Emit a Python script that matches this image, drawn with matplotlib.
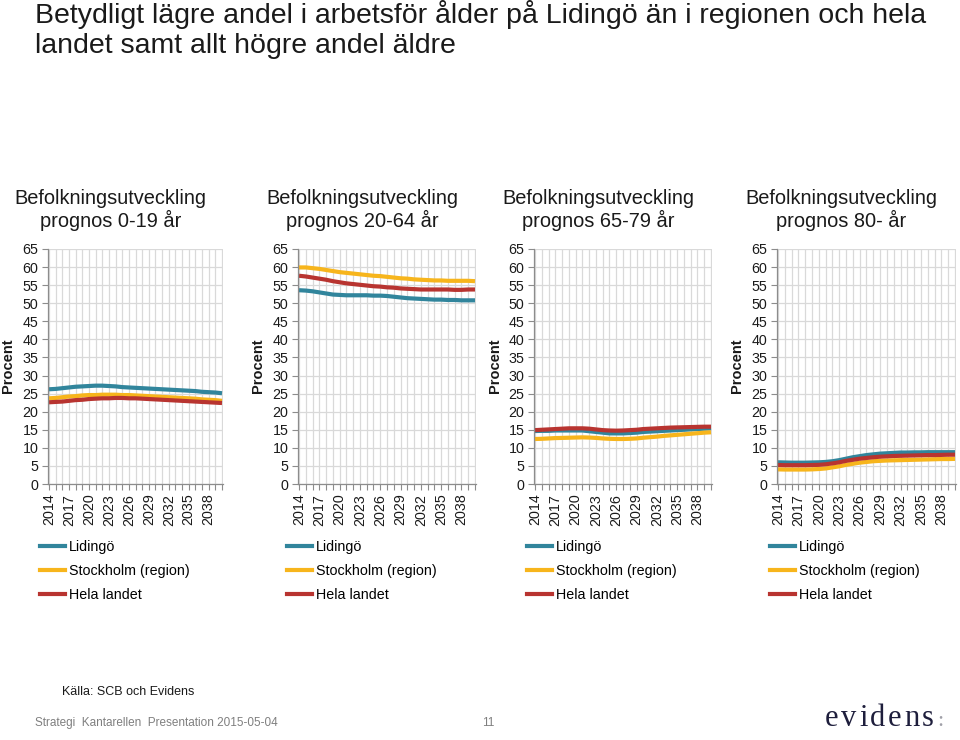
import matplotlib
matplotlib.use("Agg")
import matplotlib.pyplot as plt
from matplotlib.lines import Line2D
import numpy as np

plt.rcParams['font.family'] = ['Liberation Sans', 'DejaVu Sans']

years = list(range(2014, 2041))
tick_years = list(range(2014, 2039, 3))
series_names = ["Lidingö", "Stockholm (region)", "Hela landet"]
colors = ["#31859C", "#F7B51C", "#B83430"]

panel_titles = [
    "Befolkningsutveckling\nprognos 0-19 år",
    "Befolkningsutveckling\nprognos 20-64 år",
    "Befolkningsutveckling\nprognos 65-79 år",
    "Befolkningsutveckling\nprognos 80- år",
]

# 0-19 år
lid_0_19 = [26.2, 26.3, 26.5, 26.7, 26.9, 27.0, 27.1, 27.2, 27.2, 27.1, 27.0, 26.8, 26.7, 26.6,
            26.5, 26.4, 26.3, 26.2, 26.1, 26.0, 25.9, 25.8, 25.7, 25.5, 25.4, 25.3, 25.1]
sth_0_19 = [23.7, 23.8, 24.0, 24.2, 24.3, 24.5, 24.6, 24.6, 24.7, 24.7, 24.7, 24.6, 24.6, 24.5,
            24.4, 24.3, 24.2, 24.1, 24.0, 23.9, 23.8, 23.7, 23.6, 23.4, 23.3, 23.2, 23.0]
hel_0_19 = [22.6, 22.7, 22.8, 23.0, 23.2, 23.3, 23.5, 23.6, 23.7, 23.7, 23.8, 23.8, 23.7, 23.7,
            23.6, 23.5, 23.4, 23.3, 23.2, 23.1, 23.0, 22.9, 22.8, 22.7, 22.6, 22.5, 22.4]

# 20-64 år
lid_20_64 = [53.6, 53.5, 53.3, 53.0, 52.7, 52.4, 52.3, 52.2, 52.2, 52.2, 52.2, 52.1, 52.1, 52.0,
             51.8, 51.6, 51.4, 51.3, 51.2, 51.1, 51.0, 51.0, 50.9, 50.9, 50.8, 50.8, 50.8]
sth_20_64 = [59.9, 59.9, 59.7, 59.5, 59.2, 58.9, 58.6, 58.4, 58.2, 58.0, 57.8, 57.6, 57.5, 57.3,
             57.1, 56.9, 56.8, 56.6, 56.5, 56.4, 56.3, 56.3, 56.2, 56.2, 56.2, 56.2, 56.1]
hel_20_64 = [57.6, 57.4, 57.1, 56.8, 56.5, 56.1, 55.8, 55.5, 55.3, 55.1, 54.9, 54.7, 54.6, 54.4,
             54.3, 54.1, 54.0, 53.9, 53.8, 53.8, 53.8, 53.8, 53.8, 53.7, 53.7, 53.8, 53.8]

# 65-79 år
lid_65_79 = [14.65, 14.7, 14.7, 14.8, 14.8, 14.8, 14.8, 14.8, 14.6, 14.4, 14.2, 14.0, 14.0, 14.0,
             14.1, 14.2, 14.4, 14.5, 14.6, 14.7, 14.8, 14.9, 15.0, 15.1, 15.2, 15.3, 15.4]
sth_65_79 = [12.45, 12.5, 12.6, 12.7, 12.75, 12.8, 12.85, 12.9, 12.85, 12.75, 12.6, 12.5, 12.45, 12.45,
             12.5, 12.6, 12.8, 12.95, 13.1, 13.3, 13.45, 13.6, 13.75, 13.9, 14.05, 14.2, 14.3]
hel_65_79 = [14.9, 15.0, 15.1, 15.2, 15.3, 15.4, 15.4, 15.4, 15.3, 15.1, 14.9, 14.8, 14.75, 14.8,
             14.9, 15.0, 15.2, 15.3, 15.4, 15.5, 15.6, 15.65, 15.7, 15.75, 15.8, 15.85, 15.85]

# 80- år
lid_80 = [6.0, 5.95, 5.9, 5.9, 5.9, 5.95, 6.0, 6.1, 6.3, 6.6, 7.0, 7.4, 7.7, 8.0,
          8.2, 8.4, 8.5, 8.6, 8.7, 8.7, 8.75, 8.75, 8.8, 8.8, 8.8, 8.8, 8.8]
sth_80 = [4.05, 4.0, 4.0, 4.0, 4.0, 4.05, 4.15, 4.3, 4.6, 4.9, 5.3, 5.6, 5.9, 6.1,
          6.3, 6.4, 6.5, 6.55, 6.6, 6.65, 6.7, 6.75, 6.8, 6.85, 6.9, 6.9, 6.95]
hel_80 = [5.25, 5.2, 5.2, 5.2, 5.2, 5.25, 5.3, 5.45, 5.7, 6.0, 6.4, 6.7, 7.0, 7.2,
          7.4, 7.55, 7.65, 7.75, 7.8, 7.85, 7.9, 7.95, 8.0, 8.0, 8.05, 8.1, 8.1]

panels = [
    (lid_0_19, sth_0_19, hel_0_19),
    (lid_20_64, sth_20_64, hel_20_64),
    (lid_65_79, sth_65_79, hel_65_79),
    (lid_80, sth_80, hel_80),
]

W, H = 960, 740
fig = plt.figure(figsize=(W / 100, H / 100), dpi=100)

# layout in pixels
ax_lefts = [48, 298, 534, 777]
ax_widths = [175, 178, 178, 179]
ax_top, ax_bottom = 249, 484
ylabel_x = [8, 258, 495, 737]
legend_x = [40, 287, 527, 770]

fig.text(35 / W, 1 - 0 / H,
         "Betydligt lägre andel i arbetsför ålder på Lidingö än i regionen och hela\n"
         "landet samt allt högre andel äldre",
         ha="left", va="top", fontsize=20.5, color="#1a1a1a", linespacing=1.22)

for i, data in enumerate(panels):
    l = ax_lefts[i]
    w = ax_widths[i]
    ax = fig.add_axes([l / W, 1 - ax_bottom / H, w / W, (ax_bottom - ax_top) / H])
    for vals, c in zip(data, colors):
        ax.plot(years, vals, color=c, lw=3.0, solid_capstyle="butt")
    ax.set_xlim(2013.85, 2040.15)
    ax.set_ylim(0, 65)
    ax.set_yticks(np.arange(0, 66, 5))
    ax.set_xticks(tick_years)
    ax.set_xticklabels([str(y) for y in tick_years], rotation=90)
    ax.set_xticks(years, minor=True)
    ax.grid(True, which="both", axis="x", color="#D9D9D9", lw=0.9)
    ax.grid(True, which="major", axis="y", color="#D9D9D9", lw=0.9)
    ax.set_axisbelow(True)
    for s in ["top", "right"]:
        ax.spines[s].set_visible(False)
    for s in ["left", "bottom"]:
        ax.spines[s].set_color("#8C8C8C")
        ax.spines[s].set_linewidth(0.9)
    ax.tick_params(axis="both", which="both", colors="#8C8C8C", labelcolor="#1a1a1a",
                   labelsize=10.3, length=4, width=0.8, pad=3)
    fig.text(ylabel_x[i] / W, 1 - 366 / H, "Procent", rotation=90, ha="center", va="center",
             fontsize=10.5, fontweight="bold", color="#1a1a1a")
    cx = (l + w / 2 - 25) / W
    fig.text(cx, 1 - 210 / H, panel_titles[i], ha="center", va="center",
             fontsize=14.4, color="#1a1a1a", linespacing=1.12)
    handles = [Line2D([0], [0], color=c, lw=3) for c in colors]
    ax.legend(handles, series_names, loc="upper left",
              bbox_to_anchor=(legend_x[i] / W, 1 - 540 / H), bbox_transform=fig.transFigure,
              frameon=False, fontsize=10.3, handlelength=1.75, handletextpad=0.3,
              labelspacing=0.69, borderaxespad=0, borderpad=0)

fig.text(62 / W, 1 - 692 / H, "Källa: SCB och Evidens", ha="left", va="center",
         fontsize=9, color="#1a1a1a")
fig.text(35 / W, 1 - 723 / H, "Strategi  Kantarellen  Presentation 2015-05-04", ha="left",
         va="center", fontsize=8.5, color="#7F7F7F")
fig.text(488 / W, 1 - 723 / H, "11", ha="center", va="center", fontsize=8.5, color="#7F7F7F")

# logo "evidens:" with wide letter spacing
fig.canvas.draw()
renderer = fig.canvas.get_renderer()
x_px = 825.0
for ch in "evidens":
    t = fig.text(x_px / W, 1 - 719 / H, ch, ha="left", va="center", fontsize=22,
                 family="Liberation Serif", color="#1E1E3C")
    bb = t.get_window_extent(renderer=renderer)
    x_px += bb.width + 2.6
fig.text((x_px + 1) / W, 1 - 722 / H, ":", ha="left", va="center", fontsize=16,
         family="Liberation Serif", color="#A0A0A8")

fig.savefig("out.png", dpi=100)
